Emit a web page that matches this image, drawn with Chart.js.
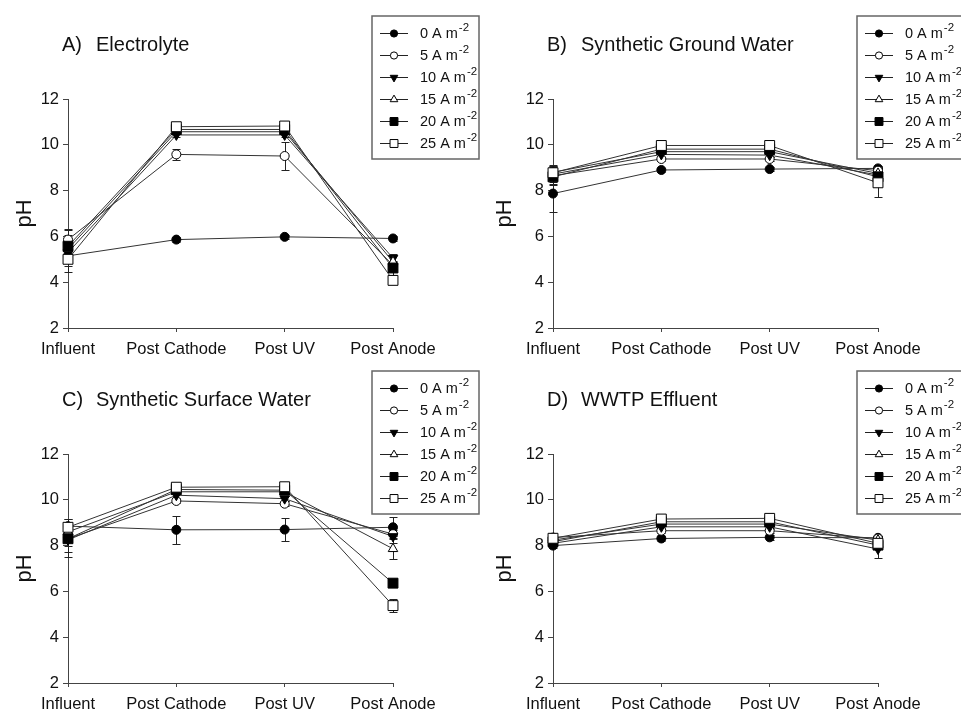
<!DOCTYPE html>
<html>
<head>
<meta charset="utf-8">
<script src="https://cdn.jsdelivr.net/npm/chart.js@4.4.1/dist/chart.umd.min.js"></script>
<style>
  html, body { margin: 0; padding: 0; background: #fff; overflow: hidden; }
  .panel { position: absolute; }
</style>
</head>
<body>
<div class="panel" style="left:0;top:0"><canvas id="chartA" width="480" height="355"></canvas></div>
<div class="panel" style="left:480px;top:0"><canvas id="chartB" width="481" height="355"></canvas></div>
<div class="panel" style="left:0;top:355px"><canvas id="chartC" width="480" height="356"></canvas></div>
<div class="panel" style="left:480px;top:355px"><canvas id="chartD" width="481" height="356"></canvas></div>
<script>
// Categorias e series
const categories = ['Influent', 'Post Cathode', 'Post UV', 'Post Anode'];
const currents = ['0', '5', '10', '15', '20', '25'];

// pH por densidade de corrente (linhas: 0, 5, 10, 15, 20, 25 A m-2)
const phElectrolyte = [
  [5.15, 5.86, 5.98, 5.91],
  [5.86, 9.58, 9.51, 4.74],
  [5.30, 10.43, 10.43, 5.05],
  [5.45, 10.57, 10.57, 4.89],
  [5.57, 10.67, 10.67, 4.62],
  [5.00, 10.79, 10.82, 4.08]
];
const errElectrolyte = [
  [0.70, 0.12, 0.10, 0.10],
  [0.45, 0.25, 0.63, 0.15],
  [0.40, 0.10, 0.10, 0.20],
  [0.60, 0.10, 0.10, 0.30],
  [0.70, 0.10, 0.10, 0.30],
  [0.30, 0.10, 0.10, 0.10]
];

const phGround = [
  [7.87, 8.90, 8.94, 8.97],
  [8.65, 9.38, 9.38, 8.87],
  [8.72, 9.58, 9.55, 8.68],
  [8.80, 9.70, 9.70, 8.75],
  [8.60, 9.81, 9.81, 8.60],
  [8.78, 9.97, 9.97, 8.34]
];
const errGround = [
  [0.80, 0.10, 0.10, 0.10],
  [0.40, 0.10, 0.10, 0.10],
  [0.35, 0.10, 0.10, 0.10],
  [0.30, 0.10, 0.10, 0.10],
  [0.30, 0.10, 0.10, 0.15],
  [0.30, 0.10, 0.10, 0.64]
];

const phSurface = [
  [8.85, 8.69, 8.70, 8.80],
  [8.30, 9.95, 9.83, 8.50],
  [8.25, 10.20, 10.05, 8.40],
  [8.60, 10.35, 10.35, 7.86],
  [8.30, 10.45, 10.42, 6.36],
  [8.80, 10.55, 10.57, 5.38]
];
const errSurface = [
  [0.30, 0.60, 0.50, 0.45],
  [0.30, 0.10, 0.10, 0.10],
  [0.75, 0.10, 0.10, 0.30],
  [0.40, 0.10, 0.10, 0.45],
  [0.60, 0.10, 0.10, 0.15],
  [0.35, 0.10, 0.10, 0.30]
];

const phWwtp = [
  [8.00, 8.31, 8.36, 8.34],
  [8.35, 8.65, 8.65, 8.31],
  [8.10, 8.82, 8.82, 7.85],
  [8.24, 8.94, 8.94, 8.24],
  [8.17, 9.04, 9.04, 8.02],
  [8.32, 9.16, 9.19, 8.10]
];
const errWwtp = [
  [0.10, 0.10, 0.10, 0.10],
  [0.10, 0.10, 0.10, 0.10],
  [0.10, 0.10, 0.10, 0.38],
  [0.10, 0.10, 0.10, 0.10],
  [0.10, 0.10, 0.10, 0.10],
  [0.10, 0.10, 0.10, 0.10]
];

// Estilo dos marcadores de cada serie
const markers = [
  { style: 'circle', fill: '#000', radius: 4.5, rotation: 0 },
  { style: 'circle', fill: '#fff', radius: 4.5, rotation: 0 },
  { style: 'triangle', fill: '#000', radius: 5.5, rotation: 180 },
  { style: 'triangle', fill: '#fff', radius: 5.5, rotation: 0 },
  { style: 'rect', fill: '#000', radius: 7, rotation: 0 },
  { style: 'rect', fill: '#fff', radius: 7, rotation: 0 }
];

const FONT = "'Liberation Sans', Arial, sans-serif";
const INK = '#111';
const AXIS = '#444';

/**
 * Barras de erro, titulo, rotulo pH e legenda
 */
const panelDecor = {
  id: 'panelDecor',
  beforeDatasetsDraw(chart) {
    const ctx = chart.ctx;
    const yScale = chart.scales.y;
    ctx.save();
    ctx.strokeStyle = '#222';
    ctx.lineWidth = 1;
    chart.data.datasets.forEach((ds, i) => {
      const meta = chart.getDatasetMeta(i);
      meta.data.forEach((pt, j) => {
        const e = ds.errors[j];
        if (!e) return;
        const top = Math.round(yScale.getPixelForValue(ds.data[j] + e)) + 0.5;
        const bot = Math.round(yScale.getPixelForValue(ds.data[j] - e)) + 0.5;
        const x = Math.round(pt.x) + 0.5;
        ctx.beginPath();
        ctx.moveTo(x, top); ctx.lineTo(x, bot);
        ctx.moveTo(x - 4, top); ctx.lineTo(x + 4, top);
        ctx.moveTo(x - 4, bot); ctx.lineTo(x + 4, bot);
        ctx.stroke();
      });
    });
    ctx.restore();
  },
  afterDraw(chart, args, opts) {
    const ctx = chart.ctx;
    const area = chart.chartArea;
    ctx.save();

    // Titulo do painel
    ctx.fillStyle = INK;
    ctx.textBaseline = 'middle';
    ctx.textAlign = 'left';
    ctx.font = '20px ' + FONT;
    ctx.fillText(opts.letter, area.left - 6, 45);
    ctx.fillText(opts.title, area.left + 28, 45);

    // Rotulo do eixo y
    ctx.save();
    ctx.translate(25, (area.top + area.bottom) / 2);
    ctx.rotate(-Math.PI / 2);
    ctx.textAlign = 'center';
    ctx.font = '22px ' + FONT;
    ctx.fillText('pH', 0, 0);
    ctx.restore();

    // Legenda
    const bx = area.left + 304;
    const by = 16;
    ctx.fillStyle = '#fff';
    ctx.fillRect(bx, by, 107, 143);
    ctx.strokeStyle = '#666';
    ctx.lineWidth = 1.5;
    ctx.strokeRect(bx, by, 107, 143);
    currents.forEach((c, i) => {
      const ry = by + 17 + i * 22;
      ctx.strokeStyle = '#222';
      ctx.lineWidth = 1;
      ctx.beginPath();
      ctx.moveTo(bx + 8, ry + 0.5);
      ctx.lineTo(bx + 36, ry + 0.5);
      ctx.stroke();
      const m = markers[i];
      ctx.fillStyle = m.fill;
      ctx.strokeStyle = '#000';
      Chart.helpers.drawPoint(ctx, {
        pointStyle: m.style,
        rotation: m.rotation,
        radius: m.radius * 0.8,
        borderWidth: 1
      }, bx + 22, ry + 0.5);
      ctx.fillStyle = INK;
      ctx.textAlign = 'left';
      ctx.textBaseline = 'middle';
      ctx.font = '14.5px ' + FONT;
      const txt = c + ' A m';
      ctx.fillText(txt, bx + 48, ry + 1);
      const w = ctx.measureText(txt).width;
      ctx.font = '11.5px ' + FONT;
      ctx.fillText('-2', bx + 48 + w + 1, ry - 5);
    });
    ctx.restore();
  }
};

/**
 * Cria um painel de pH
 */
function makePanel(id, letter, title, values, errors, axisLeft, plotRight, height) {
  const canvas = document.getElementById(id);
  const datasets = values.map((row, i) => ({
    label: currents[i] + ' A m-2',
    data: row,
    errors: errors[i],
    order: values.length - 1 - i,
    borderColor: '#333',
    borderWidth: 1,
    pointStyle: markers[i].style,
    pointRotation: markers[i].rotation,
    pointRadius: markers[i].radius,
    pointBackgroundColor: markers[i].fill,
    pointBorderColor: '#000',
    pointBorderWidth: 1,
    tension: 0,
    fill: false
  }));

  return new Chart(canvas.getContext('2d'), {
    type: 'line',
    data: { labels: categories, datasets: datasets },
    options: {
      responsive: false,
      animation: false,
      layout: {
        padding: { left: 0, right: canvas.width - plotRight, top: 99, bottom: 0 }
      },
      plugins: {
        legend: { display: false },
        tooltip: { enabled: false },
        panelDecor: { letter: letter, title: title }
      },
      scales: {
        x: {
          offset: false,
          afterFit: (s) => { s.height = height - 328; },
          grid: {
            display: true,
            drawOnChartArea: false,
            drawTicks: true,
            tickLength: 4,
            color: AXIS
          },
          border: { display: true, color: AXIS, width: 1 },
          ticks: {
            color: INK,
            padding: 8,
            maxRotation: 0,
            autoSkip: false,
            font: { family: FONT, size: 16.5 }
          }
        },
        y: {
          min: 2,
          max: 12,
          afterFit: (s) => { s.width = axisLeft; },
          grid: {
            display: true,
            drawOnChartArea: false,
            drawTicks: true,
            tickLength: 5,
            color: AXIS
          },
          border: { display: true, color: AXIS, width: 1 },
          ticks: {
            stepSize: 2,
            color: INK,
            padding: 4,
            font: { family: FONT, size: 16.5 }
          }
        }
      }
    },
    plugins: [panelDecor]
  });
}

makePanel('chartA', 'A)', 'Electrolyte', phElectrolyte, errElectrolyte, 68, 393, 355);
makePanel('chartB', 'B)', 'Synthetic Ground Water', phGround, errGround, 73, 398, 355);
makePanel('chartC', 'C)', 'Synthetic Surface Water', phSurface, errSurface, 68, 393, 356);
makePanel('chartD', 'D)', 'WWTP Effluent', phWwtp, errWwtp, 73, 398, 356);
</script>
</body>
</html>
